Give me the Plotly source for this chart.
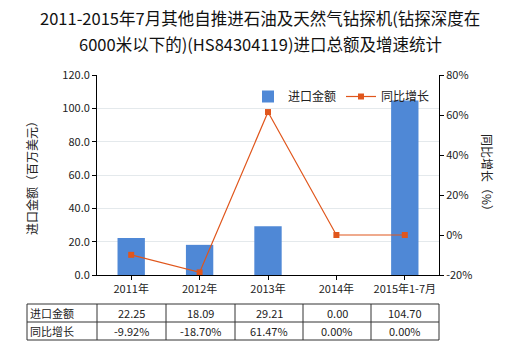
import plotly.graph_objects as go

categories = ["2011年", "2012年", "2013年", "2014年", "2015年1-7月"]
import_values = [22.25, 18.09, 29.21, 0.00, 104.70]
growth_values = [-9.92, -18.70, 61.47, 0.00, 0.00]
import_labels = ["22.25", "18.09", "29.21", "0.00", "104.70"]
growth_labels = ["-9.92%", "-18.70%", "61.47%", "0.00%", "0.00%"]
left_ticks = [0, 20, 40, 60, 80, 100, 120]
right_ticks = [-20, 0, 20, 40, 60, 80]
title_lines = ["2011-2015年7月其他自推进石油及天然气钻探机(钻探深度在",
               "6000米以下的)(HS84304119)进口总额及增速统计"]

FONT = "Noto Sans CJK SC, Microsoft YaHei, sans-serif"
BAR = "#4f88d6"
LINE = "#e0561c"

fig = go.Figure()
fig.add_trace(go.Bar(x=categories, y=import_values, name="进口金额",
                     marker=dict(color=BAR, line=dict(width=0)), width=0.4))
fig.add_trace(go.Scatter(x=categories, y=growth_values, name="同比增长", yaxis="y2",
                         mode="lines+markers", line=dict(color=LINE, width=1.2),
                         marker=dict(symbol="square", size=6, color=LINE)))

L, R, T, B = 97, 81, 75, 75
W, H = 520, 350
pw, ph = W - L - R, H - T - B

def px(x):
    return (x - L) / pw

def py(y):
    return (H - B - y) / ph

fig.update_layout(
    width=W, height=H,
    margin=dict(l=L, r=R, t=T, b=B, pad=0),
    paper_bgcolor="white", plot_bgcolor="white",
    font=dict(family=FONT, size=11, color="#222"),
    showlegend=True,
    legend=dict(orientation="h", x=px(248), y=py(82), xanchor="left", yanchor="top",
                bgcolor="rgba(0,0,0,0)", font=dict(size=12), itemwidth=30,
                traceorder="normal", tracegroupgap=0),
    bargap=0.6,
    xaxis=dict(type="category", showline=True, linecolor="#000", linewidth=1,
               ticks="outside", ticklen=4, tickcolor="#000", tickfont=dict(size=11),
               showgrid=False, mirror=False),
    yaxis=dict(range=[0, 120], tickvals=left_ticks, tickformat=".1f",
               showline=True, linecolor="#000", linewidth=1, ticks="outside",
               ticklen=4, tickcolor="#000", showgrid=True, gridcolor="#e4e9ec",
               zeroline=False, tickfont=dict(size=11),
               title=dict(text="进口金额（百万美元）", font=dict(size=12), standoff=22)),
    yaxis2=dict(range=[-20, 80], tickvals=right_ticks,
                ticktext=[f"{v}%" for v in right_ticks],
                overlaying="y", side="right", showline=True, linecolor="#000",
                linewidth=1, ticks="outside", ticklen=4, tickcolor="#000",
                showgrid=False, zeroline=False, tickfont=dict(size=11)),
)

for i, line in enumerate(title_lines):
    fig.add_annotation(text=line, xref="paper", yref="paper", x=px(260), y=py(18 + 26 * i),
                       xanchor="center", yanchor="middle", showarrow=False,
                       font=dict(size=16.5, color="#111"))

fig.add_annotation(text="同比增长（%）", xref="paper", yref="paper",
                   x=px(488), y=py(175), textangle=90, showarrow=False,
                   font=dict(size=12), xanchor="center", yanchor="middle")

# data table
col_edges = [27, 97, 166, 235, 303, 371, 439]
row_edges = [304, 322, 340]
shapes = []
for yv in row_edges:
    shapes.append(dict(type="line", xref="paper", yref="paper",
                       x0=px(col_edges[0]), x1=px(col_edges[-1]), y0=py(yv), y1=py(yv),
                       line=dict(color="#333", width=1)))
for xv in col_edges:
    shapes.append(dict(type="line", xref="paper", yref="paper",
                       x0=px(xv), x1=px(xv), y0=py(row_edges[0]), y1=py(row_edges[-1]),
                       line=dict(color="#333", width=1)))
fig.update_layout(shapes=shapes)

row_names = ["进口金额", "同比增长"]
rows = [import_labels, growth_labels]
for r, (name, vals) in enumerate(zip(row_names, rows)):
    yc = (row_edges[r] + row_edges[r + 1]) / 2
    fig.add_annotation(text=name, xref="paper", yref="paper", x=px(28), y=py(yc),
                       xanchor="left", yanchor="middle", showarrow=False,
                       font=dict(size=11))
    for i, v in enumerate(vals):
        xc = (col_edges[i + 1] + col_edges[i + 2]) / 2
        fig.add_annotation(text=v, xref="paper", yref="paper", x=px(xc), y=py(yc),
                           xanchor="center", yanchor="middle", showarrow=False,
                           font=dict(size=11))

fig.write_html("out.html")
